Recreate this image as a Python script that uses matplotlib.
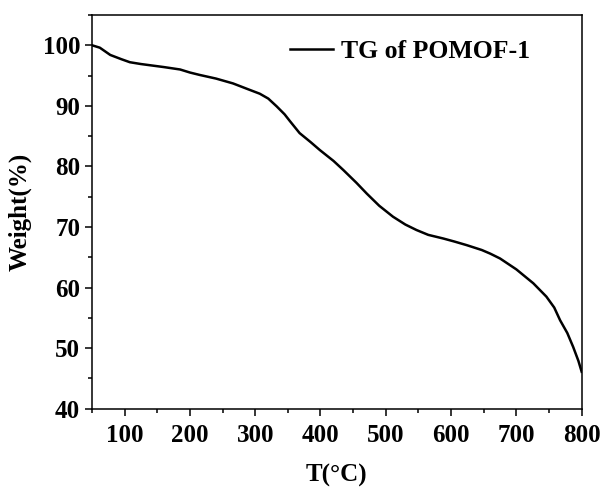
import matplotlib.pyplot as plt
from matplotlib.ticker import MultipleLocator

# TG curve
temp = [50, 62, 78, 95, 108, 125, 139, 160, 185, 200, 215, 240, 266, 290, 307,
        320, 333, 345, 353, 368, 385, 399, 420, 435, 455, 471, 490, 511, 530,
        547, 565, 588, 605, 624, 647, 660, 675, 700, 726, 746, 758, 767, 778,
        787, 795, 800]
weight = [100.0, 99.6, 98.4, 97.7, 97.2, 96.9, 96.7, 96.4, 96.0, 95.5, 95.1,
          94.5, 93.7, 92.7, 92.0, 91.2, 89.9, 88.6, 87.5, 85.5, 84.0, 82.7,
          80.9, 79.4, 77.3, 75.5, 73.5, 71.7, 70.4, 69.5, 68.7, 68.1, 67.6,
          67.0, 66.2, 65.6, 64.8, 63.0, 60.7, 58.5, 56.7, 54.6, 52.5, 50.2,
          47.9, 46.1]

plt.rcParams['font.family'] = ['Liberation Serif', 'DejaVu Serif']
plt.rcParams['font.weight'] = 'bold'

fig, ax = plt.subplots(figsize=(6.04, 4.91), dpi=100)
fig.subplots_adjust(left=0.1523, right=0.963, top=0.9695, bottom=0.1676)

ax.plot(temp, weight, color='black', lw=1.8, label='TG of POMOF-1')

ax.set_xlim(50, 800)
ax.set_ylim(40, 105)
ax.xaxis.set_major_locator(MultipleLocator(100))
ax.xaxis.set_minor_locator(MultipleLocator(50))
ax.yaxis.set_major_locator(MultipleLocator(10))
ax.yaxis.set_minor_locator(MultipleLocator(5))
ax.tick_params(which='both', direction='out', width=1.1, labelsize=18)
ax.tick_params(which='major', length=5)
ax.tick_params(which='minor', length=3)
ax.tick_params(axis='x', pad=6)
for s in ax.spines.values():
    s.set_linewidth(1.1)

ax.set_xlabel('T(°C)', fontsize=18, fontweight='bold', labelpad=12)
ax.set_ylabel('Weight(%)', fontsize=18, fontweight='bold', labelpad=8)

ax.legend(loc='center left', bbox_to_anchor=(0.404, 0.906), frameon=False,
          borderpad=0, borderaxespad=0, handlelength=1.7, handletextpad=0.3,
          prop={'size': 18.5, 'weight': 'bold'})

fig.savefig('out.png', dpi=100)
